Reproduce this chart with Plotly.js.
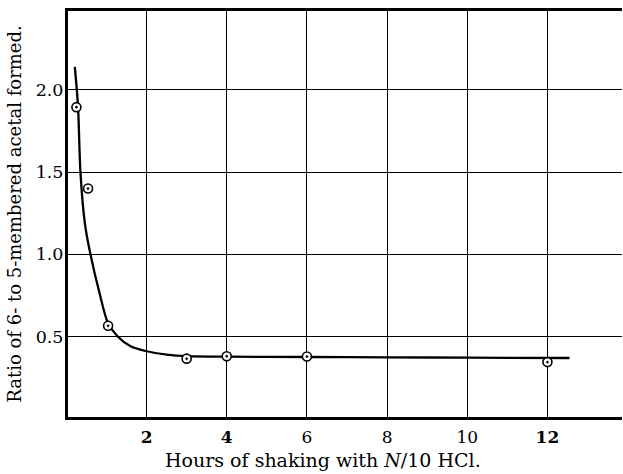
<!DOCTYPE html>
<html>
<head>
<meta charset="utf-8">
<script src="https://cdn.plot.ly/plotly-3.0.1.min.js"></script>
<style>html,body{margin:0;padding:0;background:#fff;}#chart{width:623px;height:474px;}</style>
</head>
<body>
<div id="chart"></div>
<script>
// Observed data points (hours, ratio)
var pointHours = [0.25, 0.54, 1.04, 3.0, 4.0, 6.0, 12.0];
var pointRatio = [1.895, 1.40, 0.565, 0.365, 0.38, 0.378, 0.344];

// Hand-drawn smooth curve
var curveHours = [0.21, 0.29, 0.35, 0.46, 0.60, 0.82, 1.04, 1.28, 1.6, 2.0, 2.5, 3.0, 4.0, 6.0, 8.0, 10.0, 12.55];
var curveRatio = [2.14, 1.90, 1.50, 1.19, 1.00, 0.77, 0.58, 0.50, 0.44, 0.41, 0.39, 0.38, 0.377, 0.375, 0.373, 0.371, 0.369];

var xTickVals = [2, 4, 6, 8, 10, 12];
var xTickText = ['<b>2</b>', '<b>4</b>', '6', '8', '10', '<b>12</b>'];
var yTickVals = [0.5, 1.0, 1.5, 2.0];
var yTickText = ['0.5', '1.0', '1.5', '2.0'];

var xTitle = 'Hours of shaking with <i>N</i>/10 HCl.';
var yTitle = 'Ratio of 6- to 5-membered acetal formed.';

var serif = 'DejaVu Serif, Liberation Serif, serif';

var traces = [
  {
    x: curveHours, y: curveRatio, type: 'scatter', mode: 'lines',
    line: {color: '#000', width: 2.3, shape: 'spline', smoothing: 0.8},
    hoverinfo: 'skip', showlegend: false
  },
  {
    x: pointHours, y: pointRatio, type: 'scatter', mode: 'markers',
    marker: {symbol: 'circle-dot', size: 9, color: '#fff', line: {color: '#000', width: 1.6}},
    showlegend: false
  }
];

var layout = {
  width: 623, height: 474,
  margin: {l: 68, r: 1, t: 11, b: 57},
  paper_bgcolor: '#fff', plot_bgcolor: '#fff',
  font: {family: serif, color: '#000', size: 17},
  xaxis: {
    range: [0.04, 13.86],
    tickvals: xTickVals, ticktext: xTickText,
    ticks: '', ticklabelstandoff: 3,
    showgrid: true, gridcolor: '#000', gridwidth: 1,
    zeroline: false,
    showline: true, linecolor: '#000', linewidth: 3, mirror: true,
    tickfont: {family: serif, size: 17}
  },
  yaxis: {
    range: [0.01, 2.48],
    tickvals: yTickVals, ticktext: yTickText,
    ticks: '', ticklabelstandoff: -2,
    showgrid: true, gridcolor: '#000', gridwidth: 1,
    zeroline: false,
    showline: true, linecolor: '#000', linewidth: 3, mirror: false,
    tickfont: {family: serif, size: 17.5},
    title: {text: yTitle, font: {family: serif, size: 18}, standoff: 10}
  },
  annotations: [{
    text: xTitle, xref: 'paper', yref: 'paper',
    x: 0.46, y: 0, xanchor: 'center', yanchor: 'top', yshift: -30,
    showarrow: false, font: {family: serif, size: 19}
  }]
};

Plotly.newPlot('chart', traces, layout, {displayModeBar: false, staticPlot: true});
</script>
</body>
</html>
